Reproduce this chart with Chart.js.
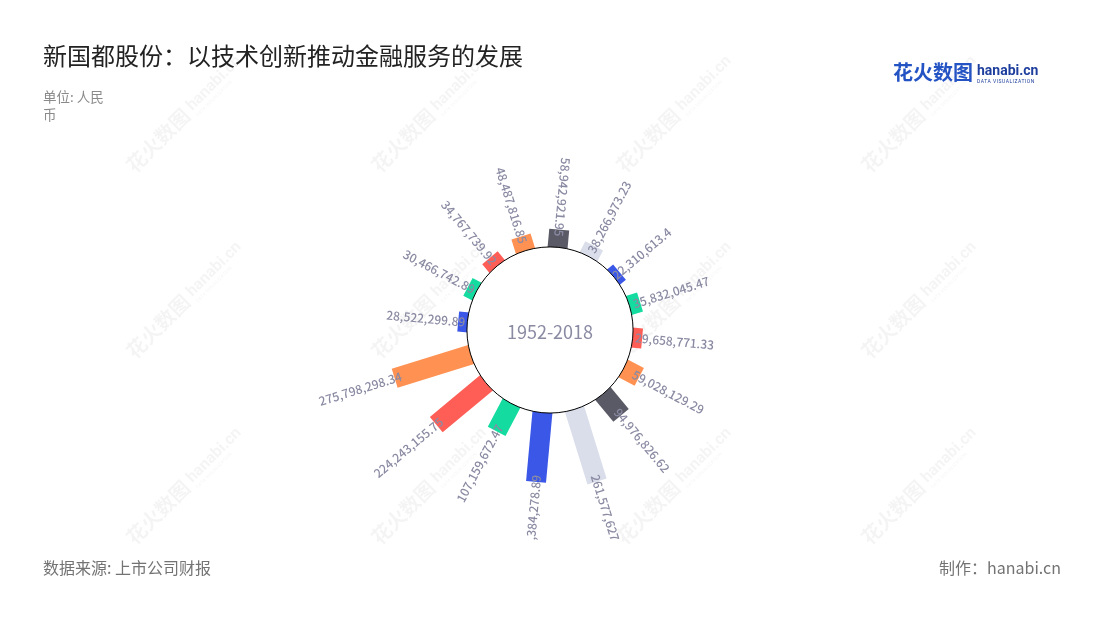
<!DOCTYPE html>
<html lang="zh-CN">
<head>
<meta charset="utf-8">
<title>新国都股份：以技术创新推动金融服务的发展</title>
<script src="https://cdn.jsdelivr.net/npm/chart.js@4.4.1/dist/chart.umd.min.js"></script>
<style>
  html, body { margin: 0; padding: 0; background: #fff; }
  body { width: 1100px; height: 620px; position: relative; overflow: hidden; font-family: "Noto Sans CJK SC", "Noto Sans", sans-serif; }
  #chart { position: absolute; left: 0; top: 0; }
  .title { position: absolute; left: 43px; top: 40px; font-size: 24px; line-height: 30px; color: #222; white-space: nowrap; }
  .unit { position: absolute; left: 43px; top: 87px; width: 70px; font-size: 13.5px; line-height: 18px; color: #8a8a8a; }
  .source { position: absolute; left: 43px; top: 555px; font-size: 16px; line-height: 24px; color: #737373; }
  .credit { position: absolute; right: 39px; top: 555px; font-size: 16px; line-height: 24px; color: #737373; }
  .logo { position: absolute; left: 893px; top: 59px; white-space: nowrap; }
  .logo-cn { display: inline-block; vertical-align: top; font-size: 20px; line-height: 26px; font-weight: 700; color: #2453c4; }
  .logo-en { display: inline-block; vertical-align: top; margin-left: 4px; padding-top: 4px; }
  .logo-en b { display: block; font-family: Roboto, sans-serif; font-size: 14px; line-height: 14px; font-weight: 700; color: #1f3f9e; }
  .logo-en i { display: block; font-style: normal; font-family: Roboto, sans-serif; font-size: 5px; line-height: 8px; letter-spacing: 0.5px; color: #1f3f9e; }
</style>
</head>
<body>
<canvas id="chart" width="1100" height="620"></canvas>
<div class="title">新国都股份：以技术创新推动金融服务的发展</div>
<div class="unit">单位: 人民币</div>
<div class="logo"><span class="logo-cn">花火数图</span><span class="logo-en"><b>hanabi.cn</b><i>DATA VISUALIZATION</i></span></div>
<div class="source">数据来源: 上市公司财报</div>
<div class="credit">制作：hanabi.cn</div>

<script>
const categories = ['1', '2', '3', '4', '5', '6', '7', '8', '9', '10', '11', '12', '13', '14', '15', '16'];
const values = [
    28522299.89, 30466742.89, 34767739.92, 48487816.85,
    58942921.95, 38266973.23, 22310613.4, 35832045.47,
    29658771.33, 59028129.29, 94976826.62, 261577627.06,
    240384278.89, 107159672.47, 224243155.75, 275798298.34
];
const palette = ['#3a57e8', '#14dca0', '#ff5e57', '#ff9152', '#5a5a66', '#dadeea'];
const centerText = '1952-2018';
const labelColor = '#8a8aa3';

const fmt = v => v.toLocaleString('en-US', { maximumFractionDigits: 2 });

// straight bars instead of wedges, still placed by the polar area controller
class RayElement extends Chart.ArcElement {
    static id = 'ray';
    static defaults = { ...Chart.ArcElement.defaults, barWidth: 20 };

    draw(ctx) {
        const { x, y, startAngle, endAngle, outerRadius, options } = this;
        const mid = (startAngle + endAngle) / 2;
        ctx.save();
        ctx.translate(x, y);
        ctx.rotate(mid);
        ctx.fillStyle = options.backgroundColor;
        ctx.fillRect(0, -options.barWidth / 2, outerRadius, options.barWidth);
        ctx.restore();
    }
}

class RayController extends Chart.PolarAreaController {
    static id = 'ray';
    static defaults = { ...Chart.PolarAreaController.defaults, dataElementType: 'ray' };
}

Chart.register(RayElement, RayController);

const watermark = {
    id: 'watermark',
    beforeDraw(chart) {
        const { ctx } = chart;
        ctx.save();
        ctx.fillStyle = 'rgba(0, 0, 0, 0.045)';
        for (let x = 135; x < 1100; x += 245) {
            for (let y = 174; y < 620; y += 186) {
                ctx.save();
                ctx.translate(x, y);
                ctx.rotate(-Math.PI / 4);
                ctx.font = 'bold 20px "Noto Sans CJK SC"';
                ctx.fillText('花火数图', 0, 0);
                const w = ctx.measureText('花火数图').width;
                ctx.font = 'bold 16px Roboto';
                ctx.fillText('hanabi.cn', w + 5, -4);
                ctx.font = '5px Roboto';
                ctx.fillText('DATA VISUALIZATION', w + 5, 4);
                ctx.restore();
            }
        }
        ctx.restore();
    }
};

const hubAndLabels = {
    id: 'hubAndLabels',
    afterDatasetsDraw(chart) {
        const { ctx, chartArea } = chart;
        const scale = chart.scales.r;
        const meta = chart.getDatasetMeta(0);
        const cx = scale.xCenter;
        const cy = scale.yCenter;
        const hole = scale.getDistanceFromCenterForValue(0) - 1;

        ctx.save();
        ctx.beginPath();
        ctx.arc(cx, cy, hole, 0, Math.PI * 2);
        ctx.fillStyle = '#fff';
        ctx.fill();
        ctx.lineWidth = 1;
        ctx.strokeStyle = '#000';
        ctx.stroke();

        ctx.fillStyle = labelColor;
        ctx.font = '18px "Noto Sans CJK SC"';
        ctx.textAlign = 'center';
        ctx.textBaseline = 'middle';
        ctx.fillText(centerText, cx, cy + 2);

        // value labels run along each bar and are cut at the plot edge
        ctx.beginPath();
        ctx.rect(chartArea.left, chartArea.top, chartArea.right - chartArea.left, chartArea.bottom - chartArea.top);
        ctx.clip();
        ctx.font = '500 12px "Noto Sans CJK SC"';
        meta.data.forEach((bar, i) => {
            const mid = (bar.startAngle + bar.endAngle) / 2;
            const r = bar.outerRadius - 7;
            const outward = Math.cos(mid) > 0.2;
            ctx.save();
            ctx.translate(cx, cy);
            ctx.rotate(outward ? mid : mid + Math.PI);
            ctx.textAlign = outward ? 'left' : 'right';
            ctx.fillText(fmt(values[i]), outward ? r : -r, 0);
            ctx.restore();
        });
        ctx.restore();
    }
};

new Chart(document.getElementById('chart'), {
    type: 'ray',
    data: {
        labels: categories,
        datasets: [{
            data: values,
            backgroundColor: palette,
            borderWidth: 0,
            barWidth: 20
        }]
    },
    options: {
        responsive: false,
        animation: false,
        layout: {
            padding: { top: 120, bottom: 80, left: 0, right: 0 }
        },
        plugins: {
            legend: { display: false },
            tooltip: { enabled: false }
        },
        scales: {
            r: {
                min: -295000000,
                max: 442000000,
                startAngle: 264,
                grid: { display: false },
                angleLines: { display: false },
                ticks: { display: false },
                pointLabels: { display: false }
            }
        }
    },
    plugins: [watermark, hubAndLabels]
});
</script>
</body>
</html>
